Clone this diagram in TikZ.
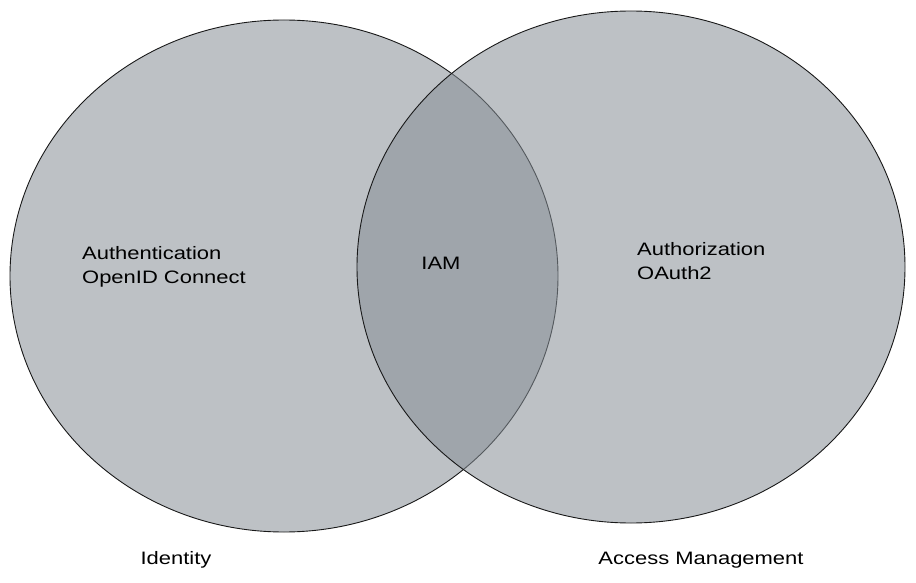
\documentclass[tikz,border=0pt]{standalone}
\usepackage{fontspec}
\setmainfont[FakeStretch=1.22]{Liberation Sans}
\usetikzlibrary{shapes.geometric}
\definecolor{exgray}{HTML}{868E96}
\tikzset{
  setc/.style={ellipse, draw=black!90, line width=0.9pt, fill=exgray, fill opacity=0.55, inner sep=0pt,
    minimum width=548pt, minimum height=512pt},
  lbl/.style={font=\fontsize{18}{24}\selectfont, text=black, inner sep=0pt, align=left}
}
\begin{document}
\begin{tikzpicture}[x=1pt,y=-1pt]
\useasboundingbox (0,0) rectangle (916,583);
\node[setc] (L) at (284,276) {};
\node[setc] (R) at (631,267) {};
\node[lbl, anchor=west] (auth) at (82,267) {Authentication\\OpenID Connect};
\node[lbl, anchor=west] (authz) at (637,261) {Authorization\\OAuth2};
\node[lbl] (iam) at (441,263) {IAM};
\node[lbl] (id) at (176,560) {Identity};
\node[lbl] (am) at (701,560) {Access Management};
\end{tikzpicture}
\end{document}
